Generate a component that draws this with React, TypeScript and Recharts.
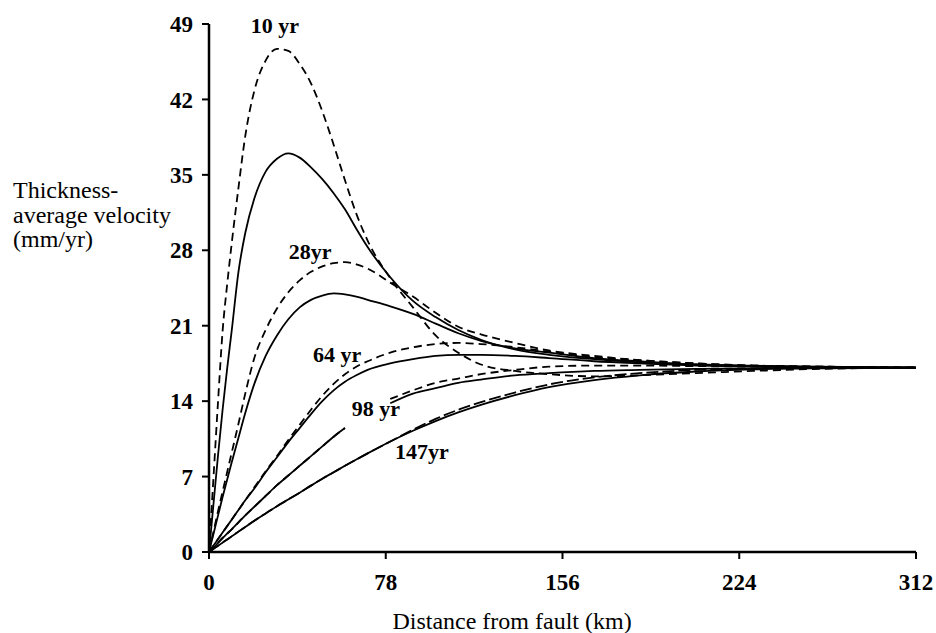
import { LineChart, Line, XAxis, YAxis, ReferenceDot } from 'recharts'

const distanceKm = [0, 2, 4, 6, 8, 10, 13, 16, 20, 25, 30, 35, 40, 45, 50, 55, 60, 65, 70, 80, 90, 100, 110, 120, 135, 150, 170, 190, 215, 240, 270, 312]

const yr10Dashed = [0, 7.0, 14.0, 20.5, 24.8, 28.6, 33.8, 38.6, 42.8, 45.6, 46.7, 46.5, 45.3, 43.5, 40.9, 37.8, 34.5, 31.4, 28.9, 25.4, 22.7, 20.1, 18.5, 17.4, 16.8, 16.5, 16.3, 16.4, 16.6, 16.8, 17.0, 17.1]
const yr10Solid = [0, 4.5, 9.0, 13.2, 17.0, 20.5, 26.0, 29.6, 32.8, 35.3, 36.5, 37.0, 36.6, 35.7, 34.6, 33.3, 31.8, 30.0, 28.3, 25.5, 23.3, 21.8, 20.6, 19.7, 18.8, 18.3, 17.9, 17.6, 17.4, 17.25, 17.15, 17.1]
const yr28Dashed = [0, 1.9, 3.8, 5.6, 7.4, 9.2, 11.9, 14.7, 18.0, 20.6, 22.6, 24.1, 25.2, 26.0, 26.5, 26.8, 26.9, 26.7, 26.3, 25.0, 23.7, 22.2, 20.9, 20.2, 19.4, 18.7, 18.2, 17.8, 17.5, 17.3, 17.2, 17.1]
const yr28Solid = [0, 1.7, 3.4, 5.1, 6.7, 8.3, 10.6, 12.9, 15.6, 18.2, 20.1, 21.6, 22.7, 23.4, 23.8, 24.0, 23.9, 23.7, 23.4, 22.8, 22.1, 21.2, 20.3, 19.6, 18.9, 18.5, 18.0, 17.7, 17.4, 17.3, 17.2, 17.1]
const yr64Dashed = [0, 0.6, 1.2, 1.8, 2.4, 3.0, 3.9, 4.8, 6.0, 7.5, 8.9, 10.4, 11.8, 13.2, 14.5, 15.6, 16.5, 17.2, 17.7, 18.5, 19.0, 19.3, 19.4, 19.3, 19.0, 18.6, 18.1, 17.8, 17.5, 17.3, 17.2, 17.1]
const yr64Solid = [0, 0.6, 1.2, 1.8, 2.4, 3.0, 3.9, 4.8, 5.9, 7.4, 8.8, 10.2, 11.5, 12.8, 14.0, 15.0, 15.8, 16.4, 16.9, 17.5, 17.9, 18.2, 18.3, 18.3, 18.2, 18.0, 17.7, 17.5, 17.3, 17.2, 17.15, 17.1]
const yr98Dashed = [0, 0.4, 0.85, 1.3, 1.7, 2.1, 2.75, 3.4, 4.2, 5.2, 6.2, 7.1, 8.0, 8.9, 9.8, 10.7, 11.5, null, null, 14.2, 15.0, 15.7, 16.1, 16.5, 16.9, 17.2, 17.3, 17.3, 17.25, 17.2, 17.15, 17.1]
const yr98Solid = [0, 0.4, 0.85, 1.3, 1.7, 2.1, 2.75, 3.4, 4.2, 5.2, 6.2, 7.1, 8.0, 8.9, 9.8, 10.7, 11.5, null, null, 13.8, 14.7, 15.2, 15.7, 16.0, 16.4, 16.6, 16.8, 16.9, 17.0, 17.05, 17.1, 17.1]
const yr147Dashed = [0, 0.29, 0.58, 0.87, 1.16, 1.45, 1.89, 2.32, 2.9, 3.58, 4.25, 4.88, 5.5, 6.16, 6.8, 7.4, 8.0, 8.58, 9.15, 10.25, 11.35, 12.35, 13.2, 13.9, 14.8, 15.55, 16.2, 16.6, 16.9, 17.0, 17.1, 17.1]
const yr147Solid = [0, 0.29, 0.58, 0.87, 1.16, 1.45, 1.89, 2.32, 2.9, 3.58, 4.25, 4.88, 5.5, 6.16, 6.8, 7.4, 8.0, 8.58, 9.15, 10.25, 11.25, 12.15, 12.95, 13.65, 14.55, 15.3, 15.95, 16.4, 16.75, 16.95, 17.05, 17.1]

const xTickValues = [0, 78, 156, 234, 312]
const xTickLabels = ['0', '78', '156', '224', '312']
const yTickValues = [0, 7, 14, 21, 28, 35, 42, 49]

const curveNames = ['10 yr', '28yr', '64 yr', '98 yr', '147yr']
const curveNameX = [29.1, 44.6, 56.5, 73.7, 94.0]
const curveNameY = [48.2, 27.2, 17.6, 12.6, 8.6]

const data = distanceKm.map((km, i) => ({
  km,
  d10: yr10Dashed[i],
  s10: yr10Solid[i],
  d28: yr28Dashed[i],
  s28: yr28Solid[i],
  d64: yr64Dashed[i],
  s64: yr64Solid[i],
  d98: yr98Dashed[i],
  s98: yr98Solid[i],
  d147: yr147Dashed[i],
  s147: yr147Solid[i],
}))

const FONT = '"Liberation Serif", "DejaVu Serif", serif'

const series = [
  { key: 'd10', dash: '8 5' },
  { key: 's10' },
  { key: 'd28', dash: '8 5' },
  { key: 's28' },
  { key: 'd64', dash: '8 5' },
  { key: 's64' },
  { key: 'd98', dash: '8 5' },
  { key: 's98' },
  { key: 'd147', dash: '12 4' },
  { key: 's147' },
]

const xTitle = () => (
  <text x={512} y={629} textAnchor="middle" fontFamily={FONT} fontSize={24} fill="#000">
    Distance from fault (km)
  </text>
)

const yTitle = () => (
  <text fontFamily={FONT} fontSize={24} fill="#000">
    <tspan x={13} y={198}>Thickness-</tspan>
    <tspan x={13} y={223}>average velocity</tspan>
    <tspan x={13} y={247}>(mm/yr)</tspan>
  </text>
)

export default function App() {
  return (
    <div>
      <style>{'body{margin:0}'}</style>
      <LineChart width={936} height={633} data={data} margin={{ top: 24, right: 20, bottom: 31, left: 149 }}>
        <XAxis
          dataKey="km"
          type="number"
          domain={[0, 312]}
          ticks={xTickValues}
          tickFormatter={(v: number) => xTickLabels[xTickValues.indexOf(v)]}
          height={50}
          axisLine={{ stroke: '#000', strokeWidth: 2.5 }}
          tickLine={{ stroke: '#000', strokeWidth: 2 }}
          tickSize={7}
          tickMargin={15}
          tick={{ fill: '#000', fontSize: 23, fontWeight: 'bold', fontFamily: FONT }}
          label={xTitle}
        />
        <YAxis
          type="number"
          domain={[0, 49]}
          ticks={yTickValues}
          width={60}
          axisLine={{ stroke: '#000', strokeWidth: 2.5 }}
          tickLine={{ stroke: '#000', strokeWidth: 2 }}
          tickSize={7}
          tickMargin={9}
          tick={{ fill: '#000', fontSize: 23, fontWeight: 'bold', fontFamily: FONT }}
          label={yTitle}
        />
        {series.map(s => (
          <Line
            key={s.key}
            dataKey={s.key}
            type="monotone"
            stroke="#000"
            strokeWidth={1.8}
            strokeDasharray={s.dash}
            dot={false}
            activeDot={false}
            isAnimationActive={false}
          />
        ))}
        {curveNames.map((name, i) => (
          <ReferenceDot
            key={name}
            x={curveNameX[i]}
            y={curveNameY[i]}
            r={0}
            fill="none"
            stroke="none"
            label={(p: any) => (
              <text
                x={p.viewBox.x}
                y={p.viewBox.y}
                textAnchor="middle"
                fontFamily={FONT}
                fontSize={22}
                fontWeight="bold"
                fill="#000"
              >
                {name}
              </text>
            )}
          />
        ))}
      </LineChart>
    </div>
  )
}
